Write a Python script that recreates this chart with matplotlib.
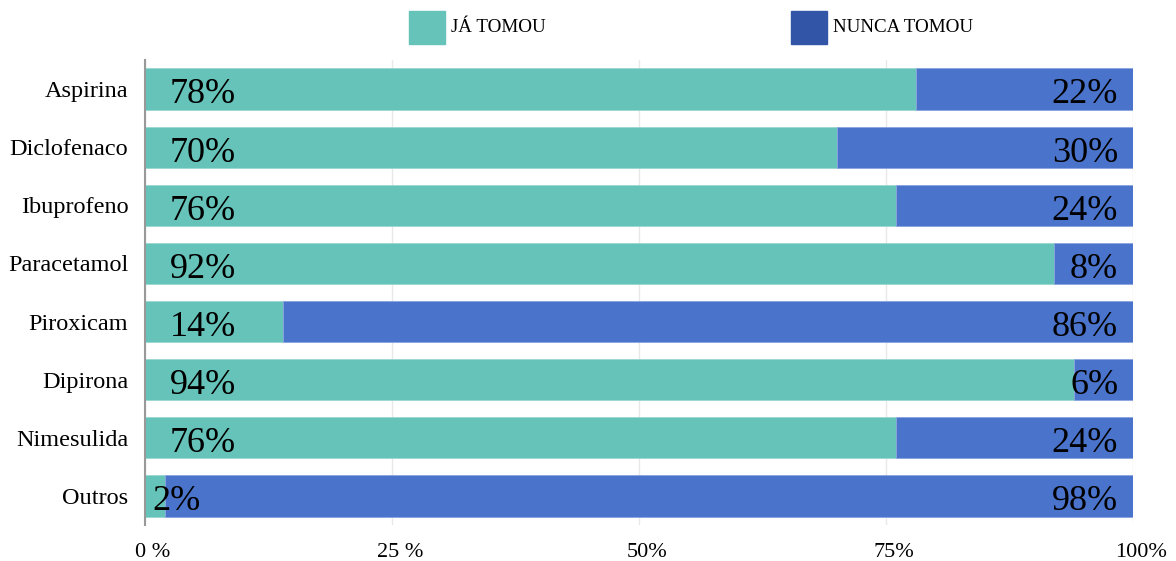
import matplotlib.pyplot as plt
import matplotlib.transforms as mtransforms
from matplotlib.patches import Rectangle

# data
categorias = ["Aspirina", "Diclofenaco", "Ibuprofeno", "Paracetamol",
              "Piroxicam", "Dipirona", "Nimesulida", "Outros"]
ja_tomou = [78, 70, 76, 92, 14, 94, 76, 2]
nunca_tomou = [22, 30, 24, 8, 86, 6, 24, 98]
xticks = [0, 25, 50, 75, 100]
xticklabels = ["0 %", "25 %", "50%", "75%", "100%"]
legenda = ["JÁ TOMOU", "NUNCA TOMOU"]

plt.rcParams['font.family'] = ['Liberation Serif', 'DejaVu Serif']

c_ja = "#66C3B9"
c_nunca = "#4A73CB"
c_nunca_leg = "#3355A8"

fig = plt.figure(figsize=(11.76, 5.61), dpi=100)
ax = fig.add_axes([145/1176, 1-525/561, (1133-145)/1176, (525-60)/561])

y = list(range(len(categorias)))
ax.barh(y, ja_tomou, height=0.71, color=c_ja, edgecolor="#9ad8d0", linewidth=0.6, zorder=2)
ax.barh(y, nunca_tomou, left=ja_tomou, height=0.71, color=c_nunca, edgecolor="#8aa3e0", linewidth=0.6, zorder=2)

for i in y:
    xo = 2.5 if ja_tomou[i] > 5 else 0.7
    ax.text(xo, i + 0.1, f"{ja_tomou[i]}%", ha="left", va="center", fontsize=26, zorder=3)
    ax.text(98.5, i + 0.1, f"{nunca_tomou[i]}%", ha="right", va="center", fontsize=26, zorder=3)

ax.set_xlim(0, 100)
ax.set_ylim(len(categorias) - 0.5, -0.5)
ax.set_yticks(y)
ax.set_yticklabels(categorias, fontsize=17.5)
ax.set_xticks(xticks)
ax.set_xticklabels(xticklabels, fontsize=16)
ax.tick_params(length=0, pad=12)
ax.tick_params(axis='x', pad=13)
shift = mtransforms.ScaledTranslation(0.08, 0, fig.dpi_scale_trans)
for lab in ax.get_xticklabels():
    lab.set_transform(lab.get_transform() + shift)
ax.grid(axis='x', color="#e8e8e8", lw=1, zorder=0)
for s in ["top", "right", "bottom"]:
    ax.spines[s].set_visible(False)
ax.spines["left"].set_color("#999999")
ax.spines["left"].set_linewidth(1.5)
ax.spines["left"].set_zorder(4)

# legend drawn by hand
for x0, cor, txt in [(409, c_ja, legenda[0]), (791, c_nunca_leg, legenda[1])]:
    fig.patches.append(Rectangle((x0/1176, 1-44/561), 36/1176, 33/561,
                                 transform=fig.transFigure, color=cor, figure=fig))
    fig.text((x0 + 42)/1176, 1-28/561, txt, fontsize=13.7, va="center", ha="left")

plt.savefig("out.png", dpi=100)
